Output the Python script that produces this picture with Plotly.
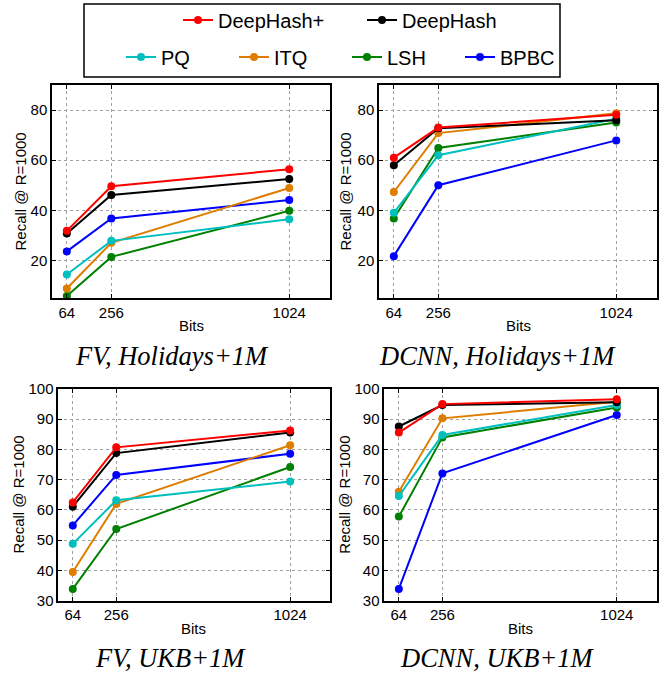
import plotly.graph_objects as go

W, H = 661, 674

bits = [64, 256, 1024]
methods = ["DeepHash+", "DeepHash", "PQ", "ITQ", "LSH", "BPBC"]
colors = {"DeepHash+": "#ff0000", "DeepHash": "#000000", "PQ": "#00bfbf",
          "ITQ": "#de7d00", "LSH": "#008000", "BPBC": "#0000ff"}

panel_titles = ["FV, Holidays+1M", "DCNN, Holidays+1M", "FV, UKB+1M", "DCNN, UKB+1M"]

fv_holidays = {
    "DeepHash+": [31.8, 49.6, 56.4],
    "DeepHash": [30.7, 46.1, 52.5],
    "PQ": [14.4, 27.8, 36.4],
    "ITQ": [8.8, 27.0, 48.9],
    "LSH": [5.8, 21.4, 39.8],
    "BPBC": [23.6, 36.7, 44.1],
}
dcnn_holidays = {
    "DeepHash+": [61.0, 73.0, 78.1],
    "DeepHash": [58.0, 72.7, 75.9],
    "PQ": [39.0, 62.0, 76.5],
    "ITQ": [47.3, 70.8, 78.7],
    "LSH": [36.7, 64.9, 75.0],
    "BPBC": [21.7, 50.0, 67.9],
}
fv_ukb = {
    "DeepHash+": [62.5, 80.7, 86.3],
    "DeepHash": [61.1, 78.8, 85.6],
    "PQ": [48.8, 63.2, 69.4],
    "ITQ": [39.5, 62.0, 81.4],
    "LSH": [33.9, 53.7, 74.2],
    "BPBC": [54.9, 71.6, 78.6],
}
dcnn_ukb = {
    "DeepHash+": [85.6, 95.0, 96.6],
    "DeepHash": [87.6, 94.7, 95.6],
    "PQ": [64.6, 84.8, 94.7],
    "ITQ": [66.0, 90.3, 95.8],
    "LSH": [57.8, 84.0, 93.9],
    "BPBC": [33.9, 72.1, 91.4],
}
panels = [fv_holidays, dcnn_holidays, fv_ukb, dcnn_ukb]

y_top_ticks = [20, 40, 60, 80]
y_bot_ticks = [30, 40, 50, 60, 70, 80, 90, 100]


def fx(px):
    return px / W


def fy(py):
    return 1 - py / H


# panel boxes in pixels: (left, right, top, bottom)
boxes = [(52, 330, 85, 298), (379, 657, 85, 298),
         (58.3, 330, 389, 600.7), (384.3, 656.7, 389, 600.7)]
yranges = [[5, 90], [5, 90], [30, 100], [30, 100]]
yticks = [y_top_ticks, y_top_ticks, y_bot_ticks, y_bot_ticks]

draw_order = ["BPBC", "LSH", "ITQ", "PQ", "DeepHash", "DeepHash+"]
rank = {m: i for i, m in enumerate(methods)}

fig = go.Figure()
layout = {}
for i, data in enumerate(panels):
    n = "" if i == 0 else str(i + 1)
    l, r, t, b = boxes[i]
    for m in draw_order:
        fig.add_trace(go.Scatter(
            x=bits, y=data[m], mode="lines+markers", name=m,
            line=dict(color=colors[m], width=2),
            marker=dict(color=colors[m], size=8),
            xaxis="x" + n, yaxis="y" + n,
            legendgroup=m, showlegend=(i == 0),
            legend=("legend" if m in ("DeepHash+", "DeepHash") else "legend2"),
            legendrank=rank[m],
        ))
    common = dict(showline=True, linecolor="black", linewidth=1.5, mirror="ticks",
                  ticks="inside", ticklen=4, tickcolor="black",
                  showgrid=True, gridcolor="#a0a0a0", griddash="dot", gridwidth=1,
                  zeroline=False, tickfont=dict(family="Liberation Sans", size=15, color="black"))
    layout["xaxis" + n] = dict(domain=[fx(l), fx(r)], range=[0, 1200], tickvals=bits,
                               anchor="y" + n, **common)
    layout["yaxis" + n] = dict(domain=[fy(b), fy(t)], range=yranges[i],
                               tickvals=yticks[i], anchor="x" + n, **common)

fig.update_layout(**layout)

ann = []
ylab_pos = [(20, 191.5), (345, 191.5), (17.5, 495), (343.7, 495)]
xlab_pos = [(191, 326), (518, 326), (193, 628), (520, 628)]
title_pos = [(172, 356), (497, 356), (171, 658), (497, 658)]
for i in range(4):
    ann.append(dict(x=fx(ylab_pos[i][0]), y=fy(ylab_pos[i][1]), xref="paper", yref="paper",
                    xanchor="center", yanchor="middle",
                    text="Recall @ R=1000", textangle=-90, showarrow=False,
                    font=dict(family="Liberation Sans", size=15, color="black")))
    ann.append(dict(x=fx(xlab_pos[i][0]), y=fy(xlab_pos[i][1]), xref="paper", yref="paper",
                    xanchor="center", yanchor="middle",
                    text="Bits", showarrow=False,
                    font=dict(family="Liberation Sans", size=15, color="black")))
    ann.append(dict(x=fx(title_pos[i][0]), y=fy(title_pos[i][1]), xref="paper", yref="paper",
                    xanchor="center", yanchor="middle",
                    text="<i>" + panel_titles[i] + "</i>", showarrow=False,
                    font=dict(family="Liberation Serif", size=26.5, color="black")))

fig.update_layout(
    width=W, height=H, margin=dict(l=0, r=0, t=0, b=0, autoexpand=False),
    paper_bgcolor="white", plot_bgcolor="white",
    annotations=ann,
    legend=dict(orientation="h", x=fx(223 - 45), xanchor="left", y=fy(20), yanchor="middle",
                font=dict(family="Liberation Sans", size=20, color="black"),
                bgcolor="rgba(0,0,0,0)", traceorder="normal", entrywidth=139),
    legend2=dict(orientation="h", x=fx(166 - 45), xanchor="left", y=fy(57), yanchor="middle",
                 font=dict(family="Liberation Sans", size=20, color="black"),
                 bgcolor="rgba(0,0,0,0)", traceorder="normal", entrywidth=68),
    shapes=[dict(type="rect", xref="paper", yref="paper",
                 x0=fx(84), x1=fx(560), y0=fy(77), y1=fy(4),
                 line=dict(color="black", width=1.5))],
)

fig.write_html(
    "out.html",
    config={"displayModeBar": False},
    post_script="document.body.style.margin='0px';",
)
